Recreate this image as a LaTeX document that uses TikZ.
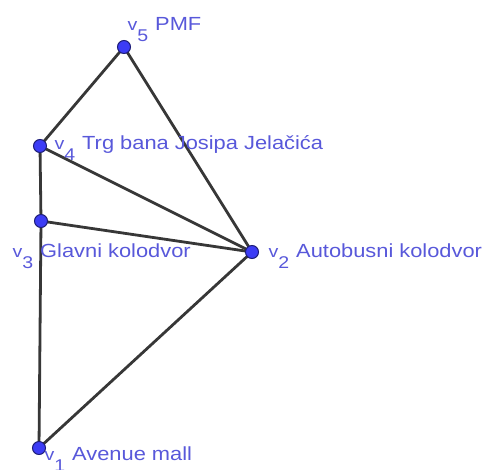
\documentclass[tikz,border=0pt]{standalone}
\usepackage{fontspec}
\setmainfont{Liberation Sans}[FakeStretch=1.15]
\definecolor{labelblue}{RGB}{88,88,218}
\definecolor{ptfill}{RGB}{60,60,245}
\definecolor{ptdraw}{RGB}{30,30,120}
\definecolor{edgegray}{RGB}{55,55,55}
\newcommand{\vidx}[1]{\llap{\fontsize{17}{17}\selectfont v\raisebox{-11pt}{#1}\hspace{7pt}}}
\tikzset{
  pt/.style={circle, minimum size=13pt, inner sep=0pt, fill=ptfill, draw=ptdraw, line width=1pt},
  lbl/.style={anchor=base west, inner sep=0pt, text=labelblue, font=\fontsize{19}{20}\selectfont},
  edge/.style={draw=edgegray, line width=2.8pt}
}
\begin{document}
\begin{tikzpicture}[x=1pt,y=-1pt]
\useasboundingbox (0,0) rectangle (490,469);
\coordinate (c5) at (124,47);
\coordinate (c4) at (40,146);
\coordinate (c3) at (41,221);
\coordinate (c2) at (252,252);
\coordinate (c1) at (39,448);
\draw[edge] (c5) -- (c4);
\draw[edge] (c5) -- (c2);
\draw[edge] (c4) -- (c3);
\draw[edge] (c4) -- (c2);
\draw[edge] (c3) -- (c2);
\draw[edge] (c3) -- (c1);
\draw[edge] (c1) -- (c2);
\node[pt] (v5) at (c5) {};
\node[pt] (v4) at (c4) {};
\node[pt] (v3) at (c3) {};
\node[pt] (v2) at (c2) {};
\node[pt] (v1) at (c1) {};
\node[lbl] (l5) at (155,30) {\vidx{5}PMF};
\node[lbl] (l4) at (82,149) {\vidx{4}Trg bana Josipa Jelačića};
\node[lbl] (l3) at (40,257) {\vidx{3}Glavni kolodvor};
\node[lbl] (l2) at (296,257) {\vidx{2}Autobusni kolodvor};
\node[lbl] (l1) at (72,460) {\vidx{1}Avenue mall};
\end{tikzpicture}
\end{document}
